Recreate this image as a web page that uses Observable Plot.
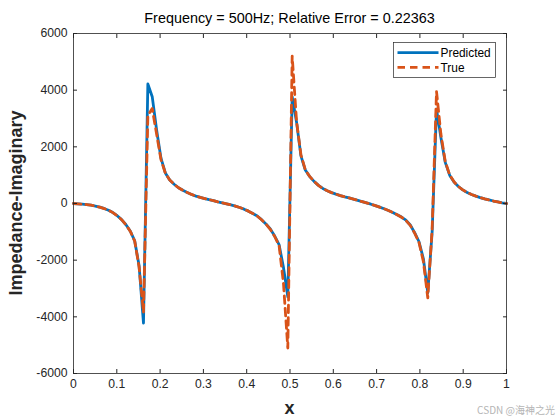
<!DOCTYPE html>
<html><head><meta charset="utf-8">
<script src="https://cdn.jsdelivr.net/npm/d3@7"></script>
<script src="https://cdn.jsdelivr.net/npm/@observablehq/plot@0.6"></script>
<style>body{margin:0;background:#fff;} #chart{width:560px;height:420px;}</style>
</head><body><div id="chart"></div>
<script>
// Sampled on 100 evenly spaced points of x in [0, 1]
const N = 100;
const predicted = [
  0, -10, -22, -38, -60, -90, -130, -175, -240, -320,
  -430, -570, -750, -980, -1320, -2200, -4220, 4220, 3770, 2600,
  1600, 1080, 830, 680, 555, 465, 390, 320, 260, 215,
  175, 135, 100, 60, 25, -10, -50, -90, -140, -200,
  -270, -350, -440, -570, -720, -900, -1150, -1450, -2250, -3290,
  3770, 2870, 1680, 1180, 950, 780, 640, 530, 450, 385,
  330, 280, 235, 195, 155, 110, 65, 20, -25, -75,
  -130, -185, -245, -315, -395, -480, -590, -760, -1030, -1350,
  -1950, -3150, -1000, 3330, 2330, 1450, 1000, 760, 600, 480,
  390, 320, 260, 210, 165, 125, 88, 55, 25, 0
];
const trueValues = [
  0, -10, -22, -38, -60, -92, -130, -178, -240, -322,
  -432, -572, -752, -985, -1330, -2250, -3850, 3100, 3350, 2450,
  1550, 1070, 830, 680, 555, 465, 390, 320, 262, 215,
  175, 135, 100, 60, 25, -10, -50, -90, -140, -200,
  -270, -350, -445, -575, -725, -910, -1165, -1480, -2800, -5100,
  5200, 2900, 1720, 1190, 955, 780, 640, 530, 450, 385,
  330, 280, 235, 195, 155, 110, 65, 20, -25, -75,
  -130, -185, -245, -315, -395, -485, -595, -770, -1045, -1380,
  -2050, -3330, -900, 3950, 2450, 1480, 1010, 765, 600, 480,
  390, 320, 260, 210, 165, 125, 88, 55, 25, 0
];
const xTicks = [0, 0.1, 0.2, 0.3, 0.4, 0.5, 0.6, 0.7, 0.8, 0.9, 1];
const xTickLabels = ["0", "0.1", "0.2", "0.3", "0.4", "0.5", "0.6", "0.7", "0.8", "0.9", "1"];
const yTicks = [-6000, -4000, -2000, 0, 2000, 4000, 6000];
const yTickLabels = ["-6000", "-4000", "-2000", "0", "2000", "4000", "6000"];
const seriesNames = ["Predicted", "True"];
const seriesColors = ["#0072BD", "#D95319"];
const titleText = "Frequency = 500Hz; Relative Error = 0.22363";
const xLabel = "x";
const yLabel = "Impedance-Imaginary";
const watermark = "CSDN @海神之光";

const data = predicted.map((p, i) => ({x: i / (N - 1), predicted: p, actual: trueValues[i]}));

const W = 560, H = 420, mL = 73, mR = 54, mT = 33, mB = 47;
const font = "'Liberation Sans', Arial, Helvetica, sans-serif";
const axisColor = "#262626";

const plot = Plot.plot({
  width: W, height: H,
  marginLeft: mL, marginRight: mR, marginTop: mT, marginBottom: mB,
  x: {domain: [0, 1]},
  y: {domain: [-6000, 6000]},
  style: {fontFamily: font, fontSize: "12.2px", color: axisColor, background: "white"},
  marks: [
    Plot.line(data, {x: "x", y: "predicted", stroke: seriesColors[0], strokeWidth: 2.8}),
    Plot.line(data, {x: "x", y: "actual", stroke: seriesColors[1], strokeWidth: 2.8, strokeDasharray: "7.5,5"}),
    Plot.frame({stroke: axisColor, strokeWidth: 0.8}),
    Plot.axisX({ticks: xTicks, tickFormat: d => xTickLabels[xTicks.indexOf(d)], tickSize: -4, tickPadding: 10, label: null, stroke: axisColor}),
    Plot.axisX({anchor: "top", ticks: xTicks, tickFormat: () => "", tickSize: -4, label: null, stroke: axisColor}),
    Plot.axisY({ticks: yTicks, tickFormat: d => yTickLabels[yTicks.indexOf(d)], tickSize: -4, tickPadding: 10, label: null, stroke: axisColor}),
    Plot.axisY({anchor: "right", ticks: yTicks, tickFormat: () => "", tickSize: -4, label: null, stroke: axisColor})
  ]
});
document.getElementById("chart").appendChild(plot);

const svg = d3.select(plot);
const cx = mL + (W - mL - mR) / 2;
// Title
svg.append("text").attr("x", cx).attr("y", 23).attr("text-anchor", "middle")
  .attr("font-family", font).attr("font-size", "14.4px").attr("fill", "#000").text(titleText);
// Axis labels
svg.append("text").attr("x", cx).attr("y", 414).attr("text-anchor", "middle")
  .attr("font-family", font).attr("font-size", "18px").attr("font-weight", "bold").attr("fill", axisColor).text(xLabel);
svg.append("text").attr("transform", `translate(22,${mT + (H - mT - mB) / 2}) rotate(-90)`).attr("text-anchor", "middle")
  .attr("font-family", font).attr("font-size", "18px").attr("font-weight", "bold").attr("fill", axisColor).text(yLabel);
// Legend
const lg = svg.append("g");
lg.append("rect").attr("x", 393.5).attr("y", 42.5).attr("width", 102).attr("height", 35)
  .attr("fill", "white").attr("stroke", axisColor).attr("stroke-width", 0.7);
seriesNames.forEach((name, i) => {
  const yy = 52.7 + i * 14.6;
  lg.append("line").attr("x1", 397.5).attr("x2", 438.5).attr("y1", yy).attr("y2", yy)
    .attr("stroke", seriesColors[i]).attr("stroke-width", 2.8)
    .attr("stroke-dasharray", i === 1 ? "7.5,5" : null);
  lg.append("text").attr("x", 440.5).attr("y", yy + 4.2).attr("text-anchor", "start").attr("font-family", font)
    .attr("font-size", "11.9px").attr("fill", "#000").text(name);
});
// Watermark
svg.append("text").attr("x", 555).attr("y", 414).attr("text-anchor", "end")
  .attr("font-family", "'Noto Sans CJK SC', 'Liberation Sans', sans-serif").attr("font-size", "10px")
  .attr("fill", "#b5b5b5").text(watermark);
</script>
</body></html>
